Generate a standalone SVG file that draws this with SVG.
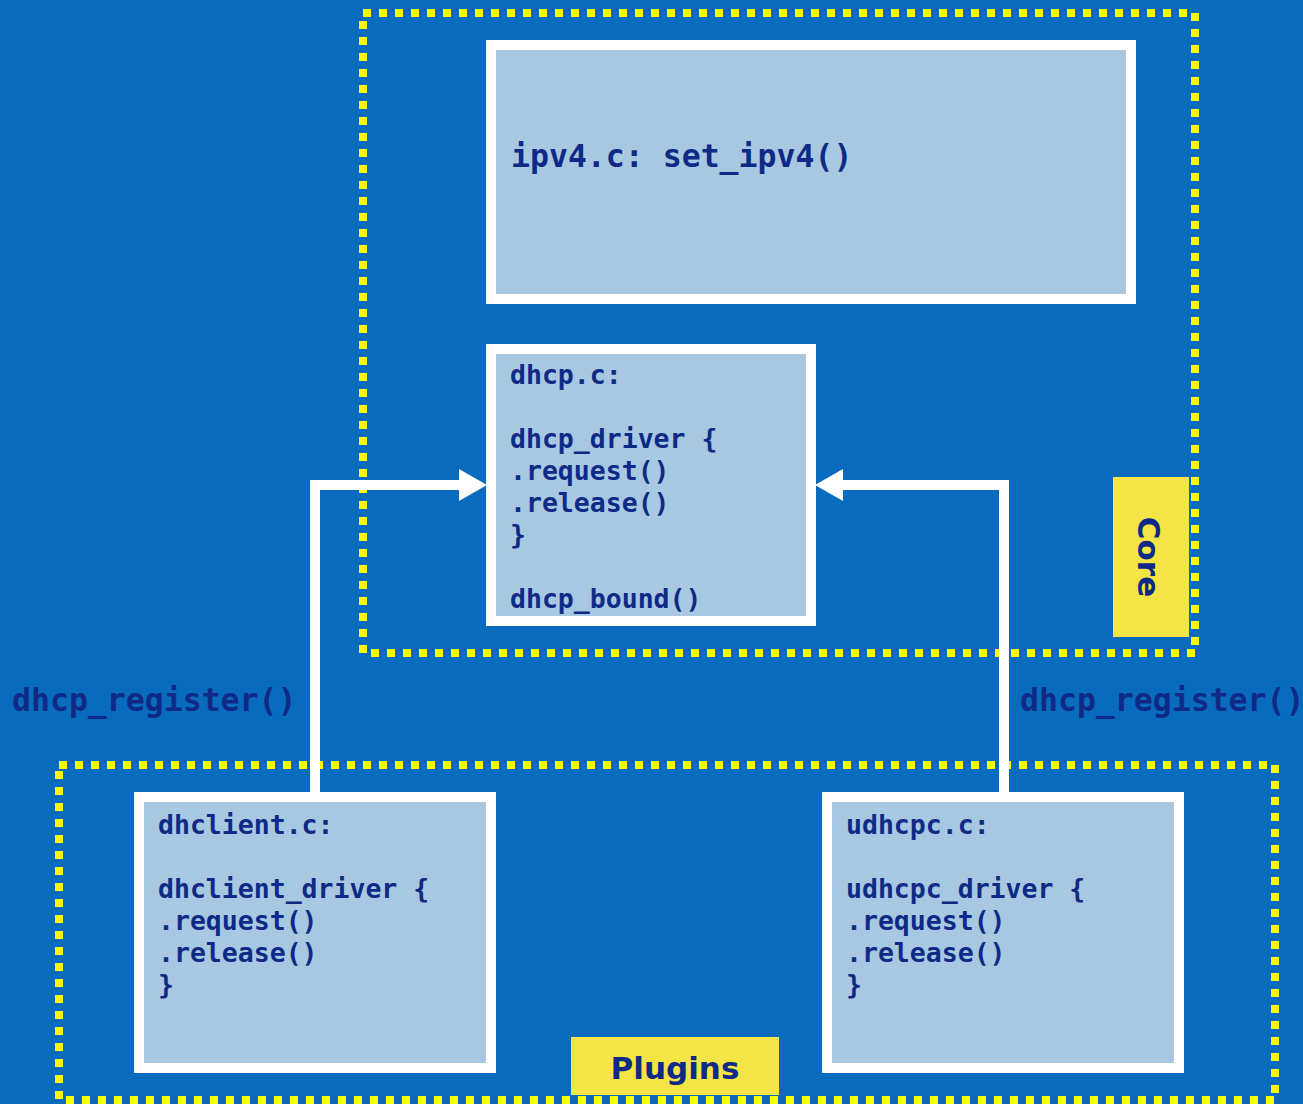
<svg xmlns="http://www.w3.org/2000/svg" width="1303" height="1104" viewBox="0 0 1303 1104">
<style>
.grp{fill:none;stroke:#FFFF00;stroke-width:8;stroke-dasharray:8 8}
.box{fill:#A7C8E0;stroke:#FFFFFF;stroke-width:10}
.code{font-family:"DejaVu Sans Mono","Liberation Mono",monospace;font-weight:bold;fill:#0E2A86}
.tag{fill:#F4E445}
.tagt{font-family:"DejaVu Sans","Liberation Sans",sans-serif;font-weight:bold;font-size:31px;fill:#0E2A86}
.conn{fill:none;stroke:#FFFFFF;stroke-width:10;stroke-linejoin:miter}
.head{fill:#FFFFFF}
</style>
<rect width="1303" height="1104" fill="#096BBD"/>
<g id="core-group">
<rect class="grp" x="363" y="13" width="832" height="640"/>
<rect class="tag" x="1113" y="477" width="76" height="160"/>
<text class="tagt" transform="translate(1138,557) rotate(90)" text-anchor="middle">Core</text>
</g>
<g id="plugins-group">
<rect class="grp" x="59" y="765" width="1216" height="335"/>
<rect class="tag" x="571" y="1037" width="208" height="58"/>
<text class="tagt" x="675" y="1079" text-anchor="middle">Plugins</text>
</g>
<g id="connectors">
<path class="conn" d="M315,792 V485 H462"/>
<polygon class="head" points="487,485 459,469 459,501"/>
<path class="conn" d="M1004,792 V485 H840"/>
<polygon class="head" points="815,485 843,469 843,501"/>
<text class="code" x="12" y="711" font-size="31.5">dhcp_register()</text>
<text class="code" x="1020" y="711" font-size="31.5">dhcp_register()</text>
</g>
<g id="ipv4">
<rect class="box" x="491" y="45" width="640" height="254"/>
<text class="code" x="511" y="167" font-size="31.5">ipv4.c: set_ipv4()</text>
</g>
<g id="dhcp">
<rect class="box" x="491" y="349" width="320" height="272"/>
<text class="code" font-size="26.5">
<tspan x="510" y="384">dhcp.c:</tspan>
<tspan x="510" y="448">dhcp_driver {</tspan>
<tspan x="510" y="480">.request()</tspan>
<tspan x="510" y="512">.release()</tspan>
<tspan x="510" y="544">}</tspan>
<tspan x="510" y="608">dhcp_bound()</tspan>
</text>
</g>
<g id="dhclient">
<rect class="box" x="139" y="797" width="352" height="271"/>
<text class="code" font-size="26.5">
<tspan x="158" y="834">dhclient.c:</tspan>
<tspan x="158" y="898">dhclient_driver {</tspan>
<tspan x="158" y="930">.request()</tspan>
<tspan x="158" y="962">.release()</tspan>
<tspan x="158" y="994">}</tspan>
</text>
</g>
<g id="udhcpc">
<rect class="box" x="827" y="797" width="352" height="271"/>
<text class="code" font-size="26.5">
<tspan x="846" y="834">udhcpc.c:</tspan>
<tspan x="846" y="898">udhcpc_driver {</tspan>
<tspan x="846" y="930">.request()</tspan>
<tspan x="846" y="962">.release()</tspan>
<tspan x="846" y="994">}</tspan>
</text>
</g>
</svg>
